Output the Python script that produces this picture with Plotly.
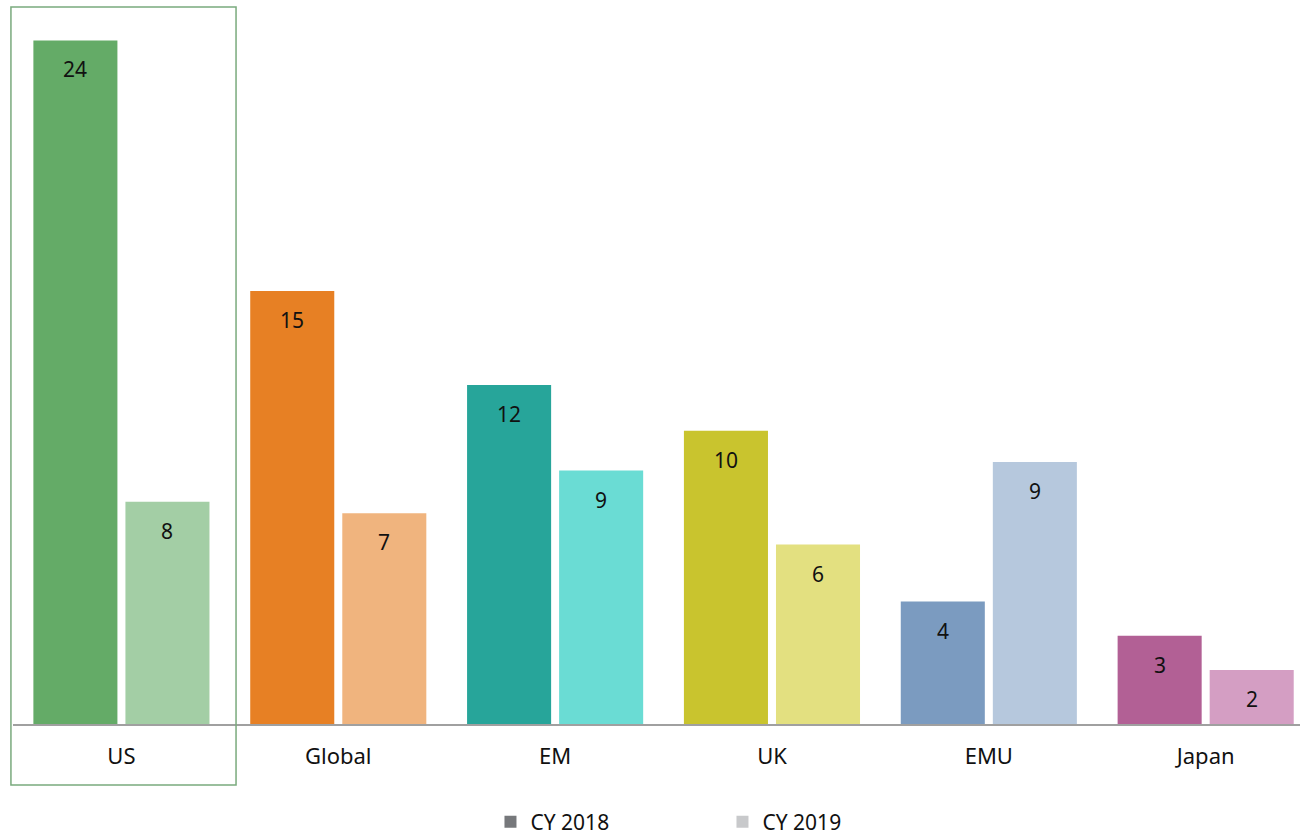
import plotly.graph_objects as go

regions = ["US", "Global", "EM", "UK", "EMU", "Japan"]
cy2018 = [24.0, 15.2, 11.9, 10.3, 4.3, 3.1]
cy2019 = [7.8, 7.4, 8.9, 6.3, 9.2, 1.9]
colors_2018 = ["#64AB67", "#E78024", "#27A59A", "#C9C42E", "#7B9BC0", "#B26095"]
colors_2019 = ["#A3CEA5", "#F0B47E", "#6ADCD4", "#E3E080", "#B6C8DD", "#D49EC3"]
legend_names = ["CY 2018", "CY 2019"]
legend_colors = ["#76787B", "#C8C9CB"]

FONT = "Source Sans Pro, Noto Sans, Open Sans, sans-serif"
BARGAP = 0.151
GROUPGAP = 0.087

fig = go.Figure()
fig.add_trace(go.Bar(x=regions, y=cy2018, marker=dict(color=colors_2018, line_width=0),
                     showlegend=False, offsetgroup="a", hoverinfo="x+y"))
fig.add_trace(go.Bar(x=regions, y=cy2019, marker=dict(color=colors_2019, line_width=0),
                     showlegend=False, offsetgroup="b", hoverinfo="x+y"))

# legend swatches in neutral grey
for name, col in zip(legend_names, legend_colors):
    fig.add_trace(go.Scatter(x=[None], y=[None], mode="markers", name=name,
                             marker=dict(symbol="square", size=14, color=col)))

# value labels just below the top of each bar
half = (1 - BARGAP) / 4
for i, (a, b) in enumerate(zip(cy2018, cy2019)):
    for xv, v in ((i - half, a), (i + half, b)):
        fig.add_annotation(x=xv, y=v, xref="x", yref="y", text=f"{v:.0f}",
                           showarrow=False, yshift=-29,
                           font=dict(size=21, color="#111111", family=FONT))

# outline highlighting the US group
fig.add_shape(type="rect", xref="paper", yref="paper", x0=-0.0016, x1=0.1733,
              y0=-0.0857, y1=1.007, line=dict(color="#7AAA7D", width=1.5),
              fillcolor="rgba(0,0,0,0)", layer="above")

fig.update_layout(
    width=1300, height=838,
    margin=dict(l=13, r=0, t=12, b=114),
    paper_bgcolor="white", plot_bgcolor="white",
    barmode="group", bargap=BARGAP, bargroupgap=GROUPGAP,
    font=dict(family=FONT, size=21, color="#111111"),
    xaxis=dict(range=[-0.5, 5.435], showgrid=False, showline=True,
               linecolor="#A0A0A0", linewidth=2, ticks="",
               tickfont=dict(size=22, color="#111111"), ticklabelstandoff=12),
    yaxis=dict(range=[0, 25], visible=False, showgrid=False, zeroline=False),
    legend=dict(orientation="h", x=0.371, xanchor="left",
                yref="container", y=0.019, yanchor="middle",
                entrywidth=187, font=dict(size=21, color="#111111"),
                itemsizing="constant"),
)

fig.write_html("out.html")
